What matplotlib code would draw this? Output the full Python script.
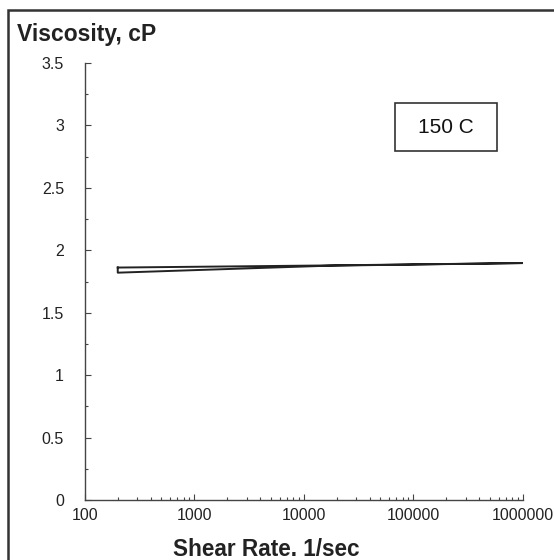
import matplotlib
matplotlib.use("Agg")
import matplotlib.pyplot as plt
from matplotlib.patches import Rectangle
from matplotlib.ticker import FixedLocator, FixedFormatter, MultipleLocator, LogLocator, NullFormatter

plt.rcParams["font.family"] = ["Liberation Sans", "DejaVu Sans"]

# forward sweep then return sweep (closed loop)
shear_rate = [200, 17000, 1000000, 17000, 200, 200]
viscosity = [1.862, 1.879, 1.898, 1.877, 1.821, 1.862]

x_ticks = [100, 1000, 10000, 100000, 1000000]
x_labels = ["100", "1000", "10000", "100000", "1000000"]
y_ticks = [0, 0.5, 1, 1.5, 2, 2.5, 3, 3.5]
y_labels = ["0", "0.5", "1", "1.5", "2", "2.5", "3", "3.5"]

fig = plt.figure(figsize=(5.54, 5.6), dpi=100)
ax = fig.add_axes([0.153, 0.107, 0.791, 0.7805])

ax.plot(shear_rate, viscosity, color="#222222", lw=1.4)

ax.set_xscale("log")
ax.set_xlim(100, 1000000)
ax.set_ylim(0, 3.5)
ax.xaxis.set_major_locator(FixedLocator(x_ticks))
ax.xaxis.set_major_formatter(FixedFormatter(x_labels))
ax.xaxis.set_minor_locator(LogLocator(base=10, subs=range(2, 10), numticks=20))
ax.xaxis.set_minor_formatter(NullFormatter())
ax.yaxis.set_major_locator(FixedLocator(y_ticks))
ax.yaxis.set_major_formatter(FixedFormatter(y_labels))
ax.yaxis.set_minor_locator(MultipleLocator(0.25))

for s in ["top", "right"]:
    ax.spines[s].set_visible(False)
for s in ["left", "bottom"]:
    ax.spines[s].set_color("#444444")
    ax.spines[s].set_linewidth(1.0)
ax.tick_params(which="major", direction="in", length=4, width=0.8,
               color="#444444", labelsize=11.5, labelcolor="#222222")
ax.tick_params(axis="x", which="major", pad=6)
ax.tick_params(axis="y", which="major", pad=15)
ax.tick_params(which="minor", direction="in", length=2.5, width=0.8,
               color="#444444")

# temperature box
ax.add_patch(Rectangle((0.708, 0.799), 0.232, 0.109, transform=ax.transAxes,
                       fill=False, ec="#333333", lw=1.2))
ax.text(0.824, 0.853, "150 C", transform=ax.transAxes, ha="center",
        va="center", fontsize=15, color="#111111")

fig.text(17 / 554, 1 - 34 / 560, "Viscosity, cP", ha="left", va="center",
         fontsize=16.5, fontweight="bold", color="#222222")
fig.text(266 / 554, 1 - 549 / 560, "Shear Rate. 1/sec", ha="center",
         va="center", fontsize=16.3, fontweight="bold", color="#222222")

# outer frame
fig.add_artist(Rectangle((8 / 554, -0.05), 1.1, 1 - 10 / 560 + 0.05,
                         transform=fig.transFigure, fill=False,
                         ec="#333333", lw=1.8))

fig.savefig("out.png", dpi=100)
